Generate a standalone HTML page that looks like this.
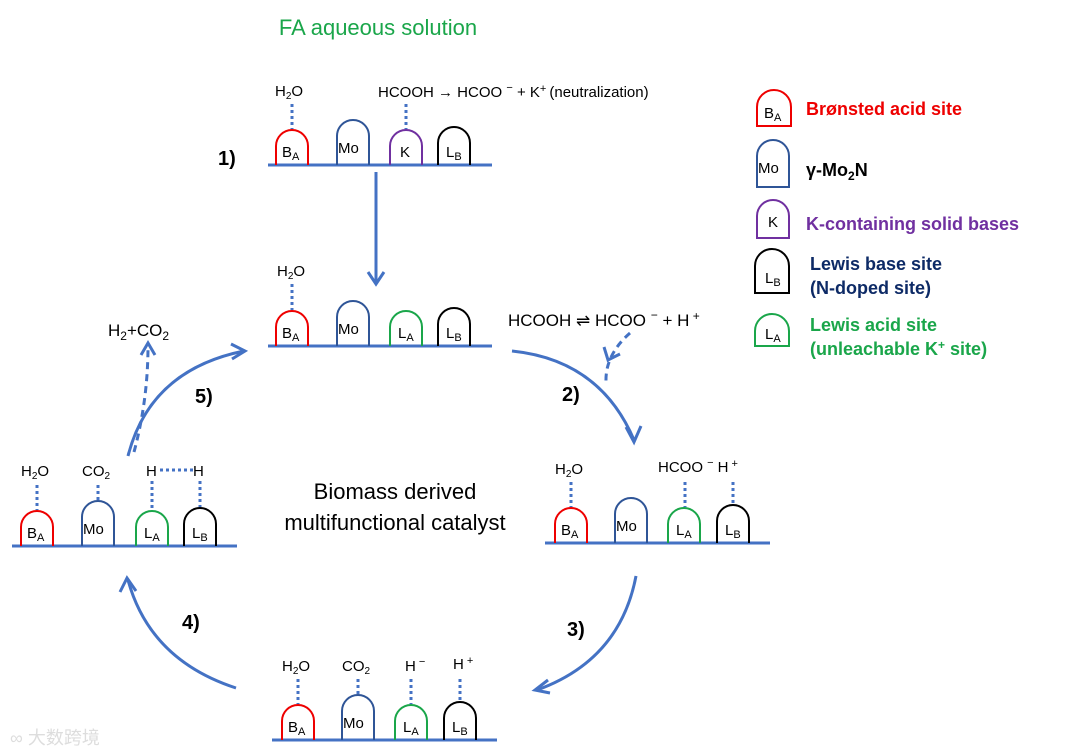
<!DOCTYPE html>
<html><head><meta charset="utf-8"><style>
body{margin:0;background:#fff}
svg{display:block;font-family:"Liberation Sans",Arial,sans-serif}
.s{fill:none;stroke-width:2}
.d{stroke:#4472c4;stroke-width:3;stroke-dasharray:3 3;fill:none}
.dd{stroke:#4472c4;stroke-width:3;stroke-dasharray:7 5;fill:none}
.b{stroke:#4472c4;stroke-width:3}
.a{stroke:#4472c4;stroke-width:3;fill:none}
.t{font-size:15px;fill:#000}
.l{font-size:15px;fill:#000}
</style></head><body>
<svg width="1080" height="756" viewBox="0 0 1080 756">
<text x="378" y="35" text-anchor="middle" font-size="22" fill="#1aa64a">FA aqueous solution</text>

<!-- Panel 1 -->
<line class="b" x1="268" y1="165" x2="492" y2="165"/>
<path class="s" stroke="#e00" d="M276 165V146A16 16 0 0 1 308 146V165"/>
<path class="s" stroke="#2f5597" d="M337 165V136A16 16 0 0 1 369 136V165"/>
<path class="s" stroke="#7030a0" d="M390 165V146A16 16 0 0 1 422 146V165"/>
<path class="s" stroke="#000" d="M438 165V143A16 16 0 0 1 470 143V165"/>
<text class="l" x="282" y="157">B<tspan font-size="11" dy="3">A</tspan></text>
<text class="l" x="338" y="153">Mo</text>
<text class="l" x="400" y="157">K</text>
<text class="l" x="446" y="157">L<tspan font-size="11" dy="3">B</tspan></text>
<line class="d" x1="292" y1="104" x2="292" y2="129"/>
<line class="d" x1="406" y1="104" x2="406" y2="129"/>
<text class="t" x="275" y="96">H<tspan font-size="10" dy="3">2</tspan><tspan dy="-3">O</tspan></text>
<text class="t" x="378" y="97">HCOOH → HCOO <tspan dy="-6" font-size="11">−</tspan><tspan dy="6"> + K</tspan><tspan dy="-5" font-size="11">+ </tspan><tspan dy="5">(neutralization)</tspan></text>
<text x="218" y="165" font-size="20" font-weight="bold">1)</text>
<line class="a" x1="376" y1="172" x2="376" y2="283"/>
<polyline class="a" points="368,272 376,284 384,272"/>

<!-- Panel 2 -->
<line class="b" x1="268" y1="346" x2="492" y2="346"/>
<path class="s" stroke="#e00" d="M276 346V327A16 16 0 0 1 308 327V346"/>
<path class="s" stroke="#2f5597" d="M337 346V317A16 16 0 0 1 369 317V346"/>
<path class="s" stroke="#1aa64a" d="M390 346V327A16 16 0 0 1 422 327V346"/>
<path class="s" stroke="#000" d="M438 346V324A16 16 0 0 1 470 324V346"/>
<text class="l" x="282" y="338">B<tspan font-size="11" dy="3">A</tspan></text>
<text class="l" x="338" y="334">Mo</text>
<text class="l" x="398" y="338">L<tspan font-size="11" dy="3">A</tspan></text>
<text class="l" x="446" y="338">L<tspan font-size="11" dy="3">B</tspan></text>
<line class="d" x1="292" y1="284" x2="292" y2="310"/>
<text class="t" x="277" y="276">H<tspan font-size="10" dy="3">2</tspan><tspan dy="-3">O</tspan></text>
<text x="508" y="326" font-size="17">HCOOH ⇌ HCOO <tspan dy="-7" font-size="12">−</tspan><tspan dy="7"> + H</tspan><tspan dy="-6" font-size="12"> +</tspan></text>

<!-- Panel 3 right -->
<line class="b" x1="545" y1="543" x2="770" y2="543"/>
<path class="s" stroke="#e00" d="M555 543V524A16 16 0 0 1 587 524V543"/>
<path class="s" stroke="#2f5597" d="M615 543V514A16 16 0 0 1 647 514V543"/>
<path class="s" stroke="#1aa64a" d="M668 543V524A16 16 0 0 1 700 524V543"/>
<path class="s" stroke="#000" d="M717 543V521A16 16 0 0 1 749 521V543"/>
<text class="l" x="561" y="535">B<tspan font-size="11" dy="3">A</tspan></text>
<text class="l" x="616" y="531">Mo</text>
<text class="l" x="676" y="535">L<tspan font-size="11" dy="3">A</tspan></text>
<text class="l" x="725" y="535">L<tspan font-size="11" dy="3">B</tspan></text>
<line class="d" x1="571" y1="482" x2="571" y2="507"/>
<line class="d" x1="685" y1="482" x2="685" y2="507"/>
<line class="d" x1="733" y1="482" x2="733" y2="504"/>
<text class="t" x="555" y="474">H<tspan font-size="10" dy="3">2</tspan><tspan dy="-3">O</tspan></text>
<text class="t" x="658" y="472">HCOO <tspan dy="-6" font-size="11">−</tspan><tspan dx="4" dy="6">H</tspan><tspan dy="-5" font-size="11"> +</tspan></text>

<!-- Panel 4 bottom -->
<line class="b" x1="272" y1="740" x2="497" y2="740"/>
<path class="s" stroke="#e00" d="M282 740V721A16 16 0 0 1 314 721V740"/>
<path class="s" stroke="#2f5597" d="M342 740V711A16 16 0 0 1 374 711V740"/>
<path class="s" stroke="#1aa64a" d="M395 740V721A16 16 0 0 1 427 721V740"/>
<path class="s" stroke="#000" d="M444 740V718A16 16 0 0 1 476 718V740"/>
<text class="l" x="288" y="732">B<tspan font-size="11" dy="3">A</tspan></text>
<text class="l" x="343" y="728">Mo</text>
<text class="l" x="403" y="732">L<tspan font-size="11" dy="3">A</tspan></text>
<text class="l" x="452" y="732">L<tspan font-size="11" dy="3">B</tspan></text>
<line class="d" x1="298" y1="679" x2="298" y2="704"/>
<line class="d" x1="358" y1="679" x2="358" y2="694"/>
<line class="d" x1="411" y1="679" x2="411" y2="704"/>
<line class="d" x1="460" y1="679" x2="460" y2="701"/>
<text class="t" x="282" y="671">H<tspan font-size="10" dy="3">2</tspan><tspan dy="-3">O</tspan></text>
<text class="t" x="342" y="671">CO<tspan font-size="10" dy="3">2</tspan></text>
<text class="t" x="405" y="671">H<tspan dy="-6" font-size="11"> −</tspan></text>
<text class="t" x="453" y="669">H<tspan dy="-5" font-size="11"> +</tspan></text>

<!-- Panel 5 left -->
<line class="b" x1="12" y1="546" x2="237" y2="546"/>
<path class="s" stroke="#e00" d="M21 546V527A16 16 0 0 1 53 527V546"/>
<path class="s" stroke="#2f5597" d="M82 546V517A16 16 0 0 1 114 517V546"/>
<path class="s" stroke="#1aa64a" d="M136 546V527A16 16 0 0 1 168 527V546"/>
<path class="s" stroke="#000" d="M184 546V524A16 16 0 0 1 216 524V546"/>
<text class="l" x="27" y="538">B<tspan font-size="11" dy="3">A</tspan></text>
<text class="l" x="83" y="534">Mo</text>
<text class="l" x="144" y="538">L<tspan font-size="11" dy="3">A</tspan></text>
<text class="l" x="192" y="538">L<tspan font-size="11" dy="3">B</tspan></text>
<line class="d" x1="37" y1="485" x2="37" y2="510"/>
<line class="d" x1="98" y1="485" x2="98" y2="500"/>
<line class="d" x1="152" y1="481" x2="152" y2="510"/>
<line class="d" x1="200" y1="481" x2="200" y2="507"/>
<line class="d" x1="160" y1="470" x2="193" y2="470"/>
<text class="t" x="21" y="476">H<tspan font-size="10" dy="3">2</tspan><tspan dy="-3">O</tspan></text>
<text class="t" x="82" y="476">CO<tspan font-size="10" dy="3">2</tspan></text>
<text class="t" x="146" y="476">H</text>
<text class="t" x="193" y="476">H</text>

<text x="395" y="499" text-anchor="middle" font-size="22">Biomass derived</text>
<text x="395" y="530" text-anchor="middle" font-size="22">multifunctional catalyst</text>

<!-- cycle arrows -->
<path class="a" d="M512 351 Q600 360 634 440"/>
<polyline class="a" points="626,427 634,442 641,426"/>
<path class="dd" d="M630 333 Q605 355 606 382"/>
<polyline class="a" stroke-width="2.5" points="604,347 608,360 620,354"/>
<text x="562" y="401" font-size="20" font-weight="bold">2)</text>

<path class="a" d="M636 576 Q620 660 537 690"/>
<polyline class="a" points="548,680 535,690 550,693"/>
<text x="567" y="636" font-size="20" font-weight="bold">3)</text>

<path class="a" d="M236 688 Q150 660 128 580"/>
<polyline class="a" points="120,592 127,578 136,591"/>
<text x="182" y="629" font-size="20" font-weight="bold">4)</text>

<path class="a" d="M128 456 Q150 370 244 351"/>
<polyline class="a" points="231,344 245,351 232,359"/>
<path class="dd" d="M134 452 Q148 400 148 346"/>
<polyline class="a" stroke-width="2.5" points="141,355 148,343 155,355"/>
<text x="195" y="403" font-size="20" font-weight="bold">5)</text>
<text x="108" y="336" font-size="17">H<tspan font-size="12" dy="4">2</tspan><tspan dy="-4">+CO</tspan><tspan font-size="12" dy="4">2</tspan></text>

<!-- legend -->
<path class="s" stroke="#e00" d="M757 126V107A16 16 0 0 1 791 107V126Z"/>
<text class="l" x="764" y="118">B<tspan font-size="11" dy="3">A</tspan></text>
<text x="806" y="115" font-size="18" font-weight="bold" fill="#e00">Brønsted acid site</text>
<path class="s" stroke="#2f5597" d="M757 187V156A16 16 0 0 1 789 156V187Z"/>
<text class="l" x="758" y="173">Mo</text>
<text x="806" y="176" font-size="18" font-weight="bold">γ-Mo<tspan font-size="12" dy="4">2</tspan><tspan dy="-4">N</tspan></text>
<path class="s" stroke="#7030a0" d="M757 238V216A16 16 0 0 1 789 216V238Z"/>
<text class="l" x="768" y="227">K</text>
<text x="806" y="230" font-size="18" font-weight="bold" fill="#7030a0">K-containing solid bases</text>
<path class="s" stroke="#000" d="M755 293V266A17 17 0 0 1 789 266V293Z"/>
<text class="l" x="765" y="283">L<tspan font-size="11" dy="3">B</tspan></text>
<text x="810" y="270" font-size="18" font-weight="bold" fill="#0d2a66">Lewis base site</text>
<text x="810" y="294" font-size="18" font-weight="bold" fill="#0d2a66">(N-doped site)</text>
<path class="s" stroke="#1aa64a" d="M755 346V331A17 17 0 0 1 789 331V346Z"/>
<text class="l" x="765" y="339">L<tspan font-size="11" dy="3">A</tspan></text>
<text x="810" y="331" font-size="18" font-weight="bold" fill="#1aa64a">Lewis acid site</text>
<text x="810" y="355" font-size="18" font-weight="bold" fill="#1aa64a">(unleachable K<tspan font-size="12" dy="-6">+</tspan><tspan dy="6"> site)</tspan></text>

<text x="10" y="744" font-size="18" fill="#ddd" font-family="'Liberation Sans','Noto Sans CJK SC',sans-serif">∞ 大数跨境</text>
</svg>
</body></html>
